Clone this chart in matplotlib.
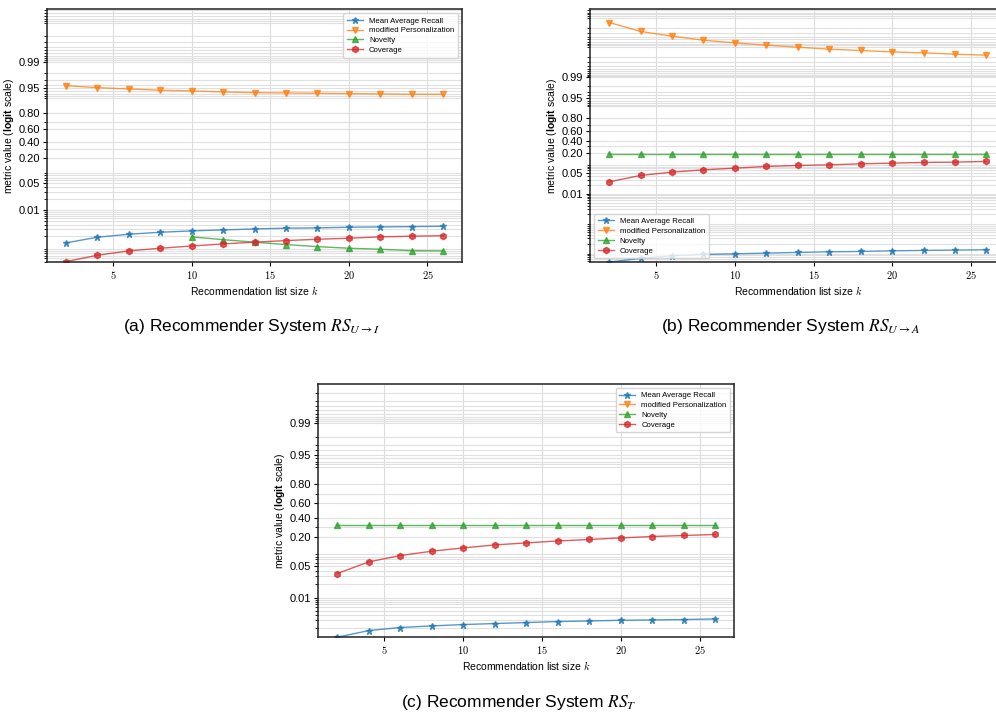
import numpy as np
import matplotlib.pyplot as plt
from matplotlib.ticker import FixedLocator, FuncFormatter, NullFormatter

plt.rcParams['font.family'] = ['Liberation Sans', 'DejaVu Sans']
plt.rcParams['mathtext.fontset'] = 'custom'
plt.rcParams['mathtext.rm'] = 'Liberation Sans'
plt.rcParams['mathtext.bf'] = 'Liberation Sans:bold'
plt.rcParams['mathtext.it'] = 'Liberation Sans:italic'

# list sizes
k = [2, 4, 6, 8, 10, 12, 14, 16, 18, 20, 22, 24, 26]

# (a) RS U->I
recall_a = [0.00131, 0.00186, 0.00224, 0.00253, 0.00275, 0.00292, 0.00311,
            0.00325, 0.00331, 0.00345, 0.00352, 0.00358, 0.00367]
pers_a = [0.9572, 0.9518, 0.9480, 0.9439, 0.9416, 0.9380, 0.9354,
          0.9343, 0.9331, 0.9316, 0.9304, 0.9292, 0.9292]
novelty_a = [np.nan, np.nan, np.nan, np.nan, 0.00190, 0.00160, 0.00137,
             0.00118, 0.00104, 0.000942, 0.000885, 0.000811, 0.000797]
coverage_a = [0.000411, 0.000610, 0.000797, 0.000942, 0.00108, 0.00123, 0.00137,
              0.00151, 0.00164, 0.00175, 0.00190, 0.00198, 0.00205]

# (b) RS U->A
recall_b = [4.6e-5, 6.19e-5, 7.58e-5, 8.47e-5, 8.88e-5, 9.38e-5, 9.91e-5,
            1.04e-4, 1.07e-4, 1.125e-4, 1.16e-4, 1.19e-4, 1.22e-4]
pers_b = [0.999868, 0.999732, 0.999612, 0.999467, 0.999341, 0.999210, 0.999075,
          0.998918, 0.998800, 0.998660, 0.998549, 0.998396, 0.998264]
novelty_b = [0.196, 0.196, 0.196, 0.196, 0.196, 0.196, 0.196,
             0.196, 0.196, 0.196, 0.196, 0.196, 0.196]
coverage_b = [0.0254, 0.0415, 0.0531, 0.0630, 0.0714, 0.0808, 0.0869,
              0.0907, 0.0975, 0.1025, 0.1076, 0.110, 0.1155]

# (c) RS T  (personalization is 0 -> not drawn on logit axis)
recall_c = [0.00124, 0.00176, 0.00207, 0.00225, 0.00242, 0.00255, 0.00269,
            0.00283, 0.00292, 0.00303, 0.00308, 0.00315, 0.00325]
pers_c = [0.0, 0.0, 0.0, 0.0, 0.0, 0.0, 0.0, 0.0, 0.0, 0.0, 0.0, 0.0, 0.0]
novelty_c = [0.312, 0.312, 0.312, 0.312, 0.312, 0.312, 0.312,
             0.312, 0.312, 0.312, 0.312, 0.312, 0.312]
coverage_c = [0.0346, 0.0621, 0.0850, 0.1043, 0.1218, 0.1398, 0.153,
              0.167, 0.178, 0.1904, 0.202, 0.211, 0.220]

y_ticks = [0.01, 0.05, 0.20, 0.40, 0.60, 0.80, 0.95, 0.99]
x_ticks = [5, 10, 15, 20, 25]
labels = ['Mean Average Recall', 'modified Personalization', 'Novelty', 'Coverage']
colors = ['#1f77b4', '#ff7f0e', '#2ca02c', '#d62728']
markers = ['*', 'v', '^', 'h']


def draw_panel(ax, series, ylim, legend_loc, caption, cap_xy):
    for vals, lab, c, m in zip(series, labels, colors, markers):
        ax.plot(k, vals, color=c, marker=m, markersize=4.5, linewidth=1.0,
                alpha=0.75, label=lab)
    ax.set_yscale('logit')
    ax.set_ylim(*ylim)
    ax.yaxis.set_major_locator(FixedLocator(y_ticks))
    ax.yaxis.set_major_formatter(FuncFormatter(lambda v, p: '%.2f' % v))
    ax.yaxis.set_minor_formatter(NullFormatter())
    ax.set_xticks(x_ticks)
    ax.set_xticklabels(['$%d$' % t for t in x_ticks], math_fontfamily='cm')
    ax.tick_params(axis='y', labelsize=8, length=3, pad=2)
    ax.tick_params(axis='y', which='minor', length=2)
    ax.tick_params(axis='x', labelsize=7.5, length=3, pad=2)
    ax.grid(True, which='major', axis='x', color='#dcdcdc', linewidth=0.8)
    ax.grid(True, which='both', axis='y', color='#e0e0e0', linewidth=0.8)
    ax.set_axisbelow(True)
    for s in ax.spines.values():
        s.set_color('#222222')
        s.set_linewidth(1.1)
    ax.set_xlabel('Recommendation list size $k$', fontsize=7.5, labelpad=2,
                  math_fontfamily='cm')
    ax.set_ylabel(r'metric value ($\mathbf{logit}$ scale)', fontsize=7.5, labelpad=2)
    ax.legend(loc=legend_loc, fontsize=5.6, labelspacing=0.3, handlelength=2.0,
              borderpad=0.5, framealpha=0.8)
    fig.text(cap_xy[0], cap_xy[1], caption, ha='center', va='center',
             fontsize=12.5, math_fontfamily='stix')


fig = plt.figure(figsize=(9.96, 7.16), dpi=100)
W, H = 996.0, 716.0

ax_a = fig.add_axes([47 / W, 1 - 262.3 / H, 415 / W, 253 / H])
ax_b = fig.add_axes([590.3 / W, 1 - 262.3 / H, 415 / W, 253.3 / H])
ax_c = fig.add_axes([318.3 / W, 1 - 637 / H, 416 / W, 253 / H])

draw_panel(ax_a, [recall_a, pers_a, novelty_a, coverage_a], (0.000394, 0.999606),
           'upper right', r'(a) Recommender System $RS_{U\to I}$', (252 / W, 1 - 326 / H))
draw_panel(ax_b, [recall_b, pers_b, novelty_b, coverage_b], (4.54e-5, 1 - 4.54e-5),
           'lower left', r'(b) Recommender System $RS_{U\to A}$', (791 / W, 1 - 326 / H))
draw_panel(ax_c, [recall_c, pers_c, novelty_c, coverage_c], (0.001255, 1 - 0.001255),
           'upper right', r'(c) Recommender System $RS_{T}$', (519 / W, 1 - 703 / H))

fig.savefig('out.png', dpi=100)
